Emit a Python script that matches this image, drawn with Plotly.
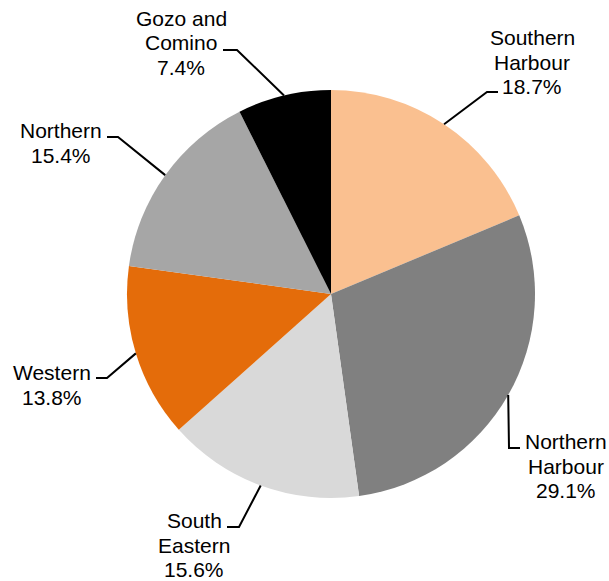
import math
import plotly.graph_objects as go

# ---- data ----
regions = ["Southern Harbour", "Northern Harbour", "South Eastern", "Western", "Northern", "Gozo and Comino"]
label_lines = [["Southern", "Harbour"], ["Northern", "Harbour"], ["South", "Eastern"],
               ["Western"], ["Northern"], ["Gozo and", "Comino"]]
shares = [18.7, 29.1, 15.6, 13.8, 15.4, 7.4]
colors = ["#FAC090", "#808080", "#D9D9D9", "#E46C0A", "#A6A6A6", "#000000"]

# ---- layout (pixels) ----
W, H = 609, 581
CX, CY, R = 331, 294, 204
LINE_H = 24.5
# label block centre (x, y) and leader elbow path (elbow point, end point)
label_pos = [(532, 62), (566, 466), (194, 545), (52, 385), (61, 143), (181, 43)]
elbows = [((487, 92), (498, 92)), ((509, 448), (520, 448)), ((239, 527), (227, 527)),
          ((107, 378), (96, 378)), ((118, 137), (107, 137)), ((237, 50), (223, 50))]

def px(x):
    return x / W

def py(y):
    return 1 - y / H

fig = go.Figure(go.Pie(
    labels=regions, values=shares, sort=False, direction="clockwise", rotation=0,
    marker=dict(colors=colors, line=dict(width=0)), textinfo="none",
    domain=dict(x=[px(CX - R), px(CX + R)], y=[py(CY + R), py(CY - R)]),
    showlegend=False,
))

total = sum(shares)
cum = 0
shapes, annotations = [], []
for i, v in enumerate(shares):
    mid = (cum + v / 2) / total * 2 * math.pi
    cum += v
    ex, ey = CX + R * math.sin(mid), CY - R * math.cos(mid)
    (bx, by), (tx, ty) = elbows[i]
    shapes.append(dict(type="path", xref="paper", yref="paper",
                       path=f"M {px(ex)} {py(ey)} L {px(bx)} {py(by)} L {px(tx)} {py(ty)}",
                       line=dict(color="black", width=2)))
    lx, ly = label_pos[i]
    lines = label_lines[i] + [f"{v:.1f}%"]
    n = len(lines)
    for k, t in enumerate(lines):
        yk = ly + (k - (n - 1) / 2) * LINE_H
        annotations.append(dict(x=px(lx), y=py(yk), xref="paper", yref="paper",
                                text=t, showarrow=False,
                                xanchor="center", yanchor="middle", align="center",
                                font=dict(family="Liberation Sans, Arial", size=21, color="black")))

fig.update_layout(width=W, height=H, margin=dict(l=0, r=0, t=0, b=0),
                  paper_bgcolor="white", plot_bgcolor="white",
                  shapes=shapes, annotations=annotations)
fig.write_html("out.html", config={"displayModeBar": False},
               post_script="document.body.style.margin='0';document.body.style.padding='0';")
